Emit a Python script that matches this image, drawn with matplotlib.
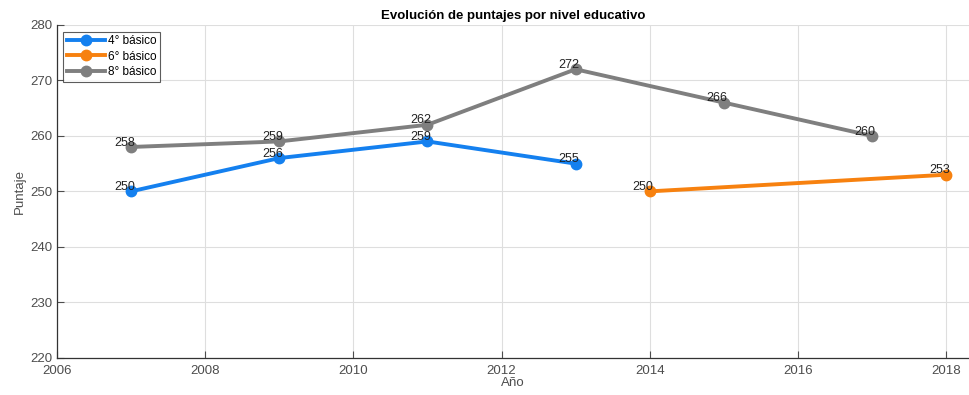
import matplotlib.pyplot as plt

plt.rcParams['font.family'] = ['Liberation Sans', 'DejaVu Sans']

# Datos por nivel
anios_4 = [2007, 2009, 2011, 2013]
puntajes_4 = [250, 256, 259, 255]
anios_6 = [2014, 2018]
puntajes_6 = [250, 253]
anios_8 = [2007, 2009, 2011, 2013, 2015, 2017]
puntajes_8 = [258, 259, 262, 272, 266, 260]

series = [
    ("4° básico", anios_4, puntajes_4, "#1480ef"),
    ("6° básico", anios_6, puntajes_6, "#f7810f"),
    ("8° básico", anios_8, puntajes_8, "#7f7f7f"),
]

fig = plt.figure(figsize=(9.69, 3.95), dpi=100)
ax = fig.add_axes([0.0588, 0.094, 0.9412, 0.843])

for nombre, x, y, color in series:
    ax.plot(x, y, '-o', color=color, linewidth=2.8, markersize=7.5, label=nombre)
    for xi, yi in zip(x, y):
        ax.text(xi + 0.05, yi - 0.3, str(yi), ha='right', va='bottom', fontsize=9, color='#222222')

ax.set_xlim(2006, 2018.31)
ax.set_ylim(220, 280)
ax.set_xticks(range(2006, 2019, 2))
ax.set_yticks(range(220, 281, 10))
ax.grid(True, color='#dedede', linewidth=0.8)
ax.set_axisbelow(True)
for s in ['top', 'right']:
    ax.spines[s].set_visible(False)
for s in ['left', 'bottom']:
    ax.spines[s].set_color('#333333')
    ax.spines[s].set_linewidth(0.9)
ax.tick_params(direction='in', length=5, colors='#4d4d4d', labelsize=9.5)
ax.tick_params(axis='x', pad=5)

ax.set_xlabel("Año", fontsize=9.5, color='#4d4d4d', labelpad=0)
ax.set_ylabel("Puntaje", fontsize=9.5, color='#4d4d4d', labelpad=3)
ax.set_title("Evolución de puntajes por nivel educativo", fontsize=9.5, fontweight='bold', pad=4)

leg = ax.legend(loc='upper left', bbox_to_anchor=(0.007, 0.98), fontsize=8.5, frameon=True,
                fancybox=False, edgecolor='#333333', handlelength=3.2, borderpad=0.3,
                labelspacing=0.3, handletextpad=0.3, borderaxespad=0)
leg.get_frame().set_linewidth(0.8)

fig.savefig("out.png", dpi=100)
